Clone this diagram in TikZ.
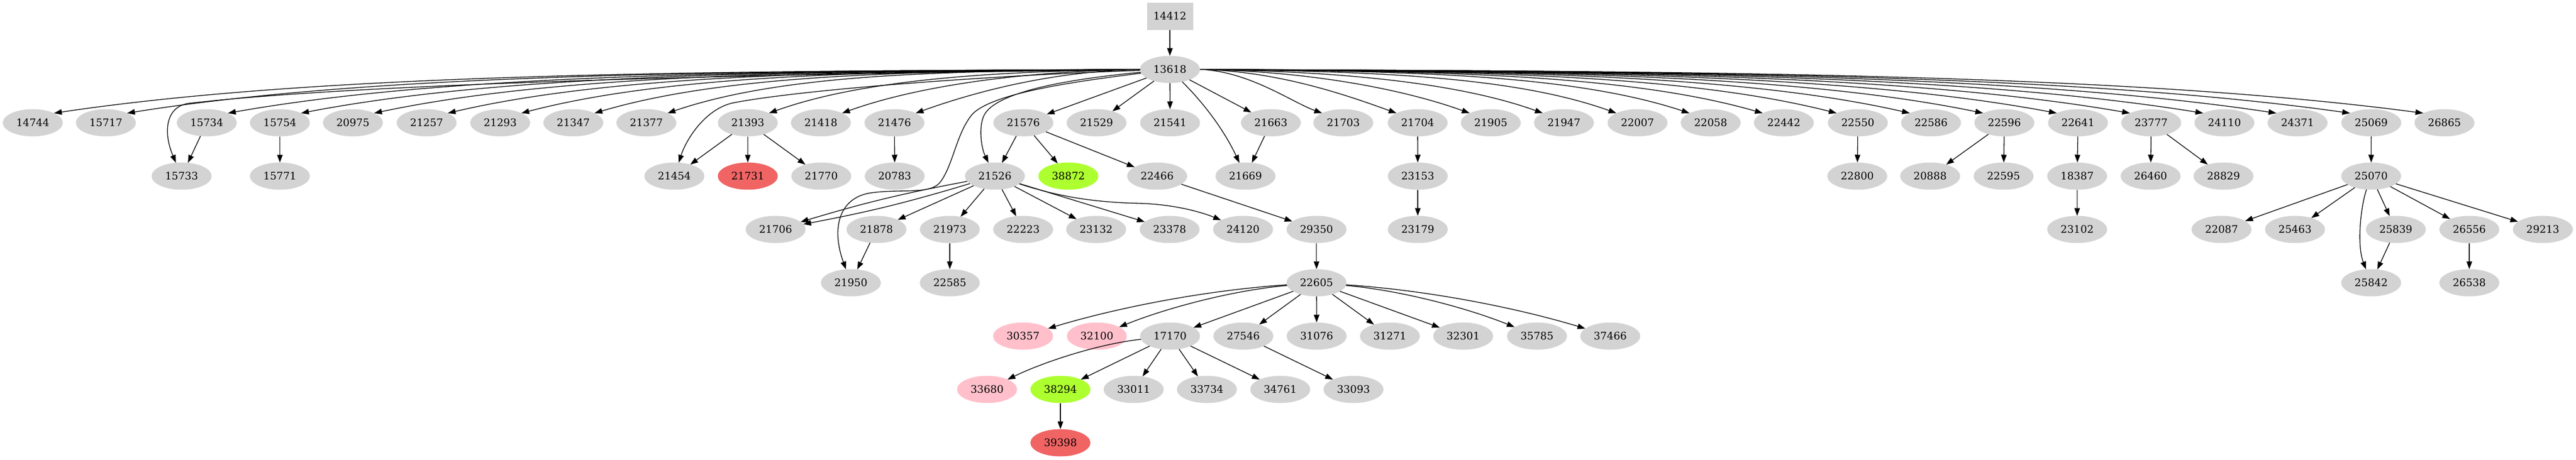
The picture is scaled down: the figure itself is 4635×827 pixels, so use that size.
\documentclass[tikz,border=0pt]{standalone}
\usepackage{fontspec}
\setmainfont{DejaVu Serif}
\usetikzlibrary{arrows.meta,shapes.geometric}
\definecolor{ngray}{HTML}{D3D3D3}
\definecolor{npink}{HTML}{FFC0CB}
\definecolor{ngreen}{HTML}{ADFF2F}
\definecolor{nred}{HTML}{F06464}
\tikzset{
  nd/.style={ellipse, fill=ngray, draw=none, minimum width=108pt, minimum height=49pt,
    inner sep=0pt, outer sep=0pt, font=\fontsize{18.7pt}{22pt}\selectfont},
  bx/.style={rectangle, fill=ngray, draw=none, minimum width=83pt, minimum height=49pt,
    inner sep=0pt, outer sep=0pt, font=\fontsize{18.7pt}{22pt}\selectfont},
  edge/.style={line width=1.3pt, -{Triangle[length=14pt,width=10pt]}},
}
\begin{document}
\begin{tikzpicture}[x=1pt,y=-1pt]
\useasboundingbox (0,0) rectangle (4635,827);
% nodes
\node[bx] (n14412) at (2105,29) {14412};
\node[nd] (n13618) at (2105,125) {13618};
\foreach \n/\x in {14744/59, 15717/190.5, 15734/372, 15754/503.6, 20975/635, 21257/767.6,
  21293/900, 21347/1031.6, 21377/1163, 21393/1345.5, 21418/1477, 21476/1609.4, 21576/1841.3,
  21529/1973, 21541/2105.3, 21663/2286.7, 21703/2417, 21704/2550.8, 21905/2682.4, 21947/2814,
  22007/2946.4, 22058/3078, 22442/3209.7, 22550/3342.8, 22586/3474.5, 22596/3606.4,
  22641/3738.9, 23777/3870.6, 24110/4002.4, 24371/4134, 25069/4266.6, 26865/4398.3}
  \node[nd] (n\n) at (\x,221) {\n};
\foreach \n/\x in {15733/326.8, 15771/503.6, 21454/1213.4, 21770/1477.7, 20783/1609.8,
  21526/1790.2, 22466/2082, 21669/2241, 23153/2551, 22800/3341.8, 20888/3472.9, 22595/3605,
  18387/3737.4, 26460/3869.6, 28829/4000.7, 25070/4266.4}
  \node[nd] (n\n) at (\x,317) {\n};
\node[nd, fill=nred] (n21731) at (1345.5,317) {21731};
\node[nd, fill=ngreen] (n38872) at (1922.3,317) {38872};
\foreach \n/\x in {21706/1395.5, 21878/1577, 21973/1709, 22223/1841, 23132/1972.3,
  23378/2104.5, 24120/2236.6, 29350/2368.8, 23179/2551, 23102/3737.4, 22087/3997.2,
  25463/4129.4, 25839/4310.8, 26556/4443, 29213/4575.3}
  \node[nd] (n\n) at (\x,413) {\n};
\foreach \n/\x in {21950/1531, 22585/1709, 22605/2368.8, 25842/4266.4, 26538/4443}
  \node[nd] (n\n) at (\x,509) {\n};
\node[nd, fill=npink] (n30357) at (1840.8,605) {30357};
\node[nd, fill=npink] (n32100) at (1973.5,605) {32100};
\foreach \n/\x in {17170/2105.3, 27546/2237.1, 31076/2369, 31271/2500.8, 32301/2632.7,
  35785/2765.5, 37466/2897.3}
  \node[nd] (n\n) at (\x,605) {\n};
\node[nd, fill=npink] (n33680) at (1776,701) {33680};
\node[nd, fill=ngreen] (n38294) at (1908,701) {38294};
\foreach \n/\x in {33011/2039.8, 33734/2171.6, 34761/2303.5, 33093/2435.3}
  \node[nd] (n\n) at (\x,701) {\n};
\node[nd, fill=nred] (n39398) at (1908,797) {39398};
% fan from 13618 to the left
\foreach \n/\x in {14744/59, 15717/190.5, 15734/372, 15754/503.6, 20975/635, 21257/767.6,
  21293/900, 21347/1031.6, 21377/1163, 21393/1345.5, 21418/1477, 21476/1609.4}{
  \pgfmathsetmacro\xe{\x+37.8}
  \pgfmathsetmacro\dd{2051-\xe}
  \pgfmathsetmacro\pax{2051-0.4*\dd}
  \pgfmathsetmacro\pbx{\xe+0.25*\dd}
  \pgfmathsetmacro\pby{max(131,203.7-0.09*\dd)}
  \draw[edge] (n13618.west) .. controls (\pax,128) and (\pbx,\pby) .. (n\n.north east);
}
% fan from 13618 to the right
\foreach \n/\x in {21703/2417, 21704/2550.8, 21905/2682.4, 21947/2814, 22007/2946.4,
  22058/3078, 22442/3209.7, 22550/3342.8, 22586/3474.5, 22596/3606.4, 22641/3738.9,
  23777/3870.6, 24110/4002.4, 24371/4134, 25069/4266.6, 26865/4398.3}{
  \pgfmathsetmacro\xe{\x-37.8}
  \pgfmathsetmacro\dd{\xe-2159}
  \pgfmathsetmacro\pax{2159+0.4*\dd}
  \pgfmathsetmacro\pbx{\xe-0.25*\dd}
  \pgfmathsetmacro\pby{max(131,203.7-0.09*\dd)}
  \draw[edge] (n13618.east) .. controls (\pax,128) and (\pbx,\pby) .. (n\n.north west);
}
% long edges from 13618
\draw[edge] (n13618) .. controls (1350,133) and (650,150) .. (340,186)
  .. controls (300,191) and (292,235) .. (n15733);
\draw[edge] (n13618) .. controls (1800,135) and (1450,160) .. (1320,185)
  .. controls (1270,195) and (1235,250) .. (n21454);
\draw[edge] (n13618) .. controls (1950,140) and (1800,160) .. (1772,205)
  .. controls (1760,225) and (1765,265) .. (n21526);
\draw[edge] (n13618) .. controls (1950,145) and (1790,165) .. (1750,205)
  .. controls (1720,240) and (1715,300) .. (1690,330)
  .. controls (1670,350) and (1620,340) .. (1568,347)
  .. controls (1510,355) and (1495,410) .. (n21950);
\draw[edge] (n13618) .. controls (2180,200) and (2210,250) .. (n21669);
% curved edges
\draw[edge] (n21526) .. controls (1900,352) and (1960,364) .. (2050,366)
  .. controls (2120,368) and (2170,385) .. (n24120);
\draw[edge] (n21526) to[bend left=3] (n21706);
\draw[edge] (n21526) to[bend right=3] (n21706);
\draw[edge] (n25070) .. controls (4248,370) and (4240,440) .. (n25842);
\draw[edge] (n22605) .. controls (2157.6,523.4) and (1999.2,557) .. (n30357);
\draw[edge] (n22605) .. controls (2210.7,523.4) and (2092.1,557) .. (n32100);
\draw[edge] (n22605) .. controls (2527.5,523.4) and (2646.5,557) .. (n35785);
\draw[edge] (n22605) .. controls (2580.2,523.4) and (2738.7,557) .. (n37466);
\draw[edge] (n17170) .. controls (1973.6,619.4) and (1874.8,653) .. (n33680);
% straight edges
\foreach \a/\b in {14412/13618, 13618/21576, 13618/21529, 13618/21541, 13618/21663,
  15734/15733, 15754/15771, 21393/21454, 21393/21731, 21393/21770, 21476/20783,
  21576/21526, 21576/38872, 21576/22466, 21663/21669, 21704/23153, 23153/23179,
  22550/22800, 22596/20888, 22596/22595, 22641/18387, 18387/23102, 23777/26460,
  23777/28829, 25069/25070, 25070/22087, 25070/25463, 25070/25839, 25070/26556,
  25070/29213, 25839/25842, 26556/26538, 21526/21878, 21526/21973, 21526/22223,
  21526/23132, 21526/23378, 21878/21950, 21973/22585, 22466/29350, 29350/22605,
  22605/17170, 22605/27546, 22605/31076, 22605/31271, 22605/32301, 17170/38294,
  17170/33011, 17170/33734, 17170/34761, 27546/33093, 38294/39398}
  \draw[edge] (n\a) -- (n\b);
\end{tikzpicture}
\end{document}
